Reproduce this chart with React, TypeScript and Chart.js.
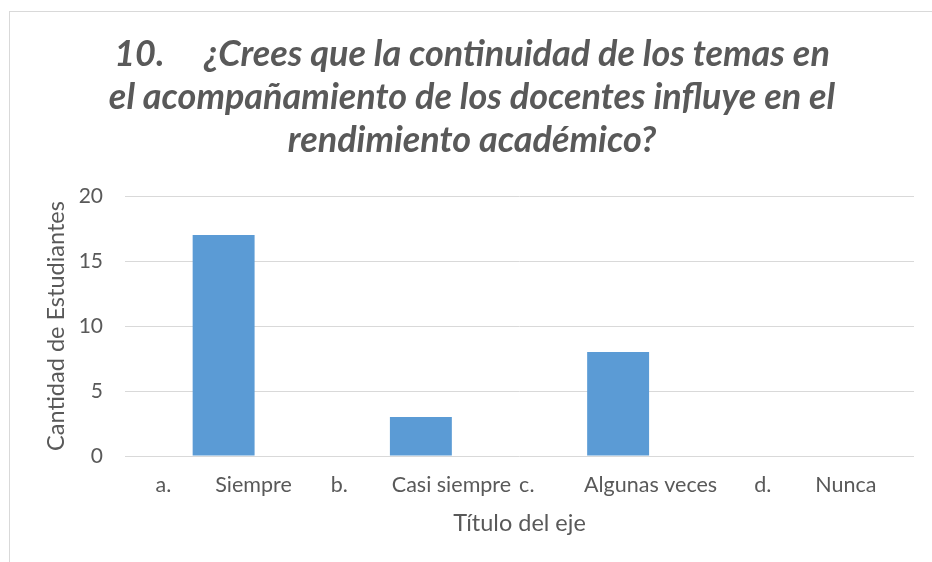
import React, { useEffect, useRef } from "react";
import { Chart, registerables } from "chart.js";

Chart.register(...registerables);

const categories = ["a.        Siempre", "b.        Casi siempre", "c.         Algunas veces", "d.        Nunca"];
const values = [17, 3, 8, 0];
const titleLines = [
  "10.     ¿Crees que la continuidad de los temas en",
  "el acompañamiento de los docentes influye en el",
  "rendimiento académico?",
];
const yAxisTitle = "Cantidad de Estudiantes";
const xAxisTitle = "Título del eje";
const yMin = 0;
const yMax = 20;
const yStep = 5;

const FONT = "Lato, 'Open Sans', sans-serif";
const TEXT = "#595959";

export default function App() {
  const ref = useRef<HTMLCanvasElement | null>(null);
  useEffect(() => {
    if (!ref.current) return;
    const chart = new Chart(ref.current, {
      type: "bar",
      data: {
        labels: categories,
        datasets: [
          {
            data: values,
            backgroundColor: "#5B9BD5",
            borderWidth: 0,
            categoryPercentage: 1,
            barPercentage: 0.314,
          },
        ],
      },
      options: {
        animation: false,
        responsive: false,
        maintainAspectRatio: false,
        layout: { padding: { top: 0, left: 20, right: 28, bottom: 27 } },
        plugins: {
          legend: { display: false },
          tooltip: { enabled: false },
          title: {
            display: true,
            text: titleLines,
            color: TEXT,
            font: { family: FONT, size: 36, weight: "bold", style: "italic", lineHeight: "43px" },
            padding: { top: 21, bottom: 34 },
          },
        },
        scales: {
          x: {
            grid: { display: false, drawTicks: false },
            border: { display: false },
            ticks: {
              color: TEXT,
              font: { family: FONT, size: 21.5 },
              padding: 16,
              maxRotation: 0,
              autoSkip: false,
            },
            title: {
              display: true,
              text: xAxisTitle,
              color: TEXT,
              font: { family: FONT, size: 23.5 },
              padding: { top: 0, bottom: 3 },
            },
            afterFit: (s: any) => {
              s.height = 85;
            },
          },
          y: {
            min: yMin,
            max: yMax,
            ticks: {
              stepSize: yStep,
              color: TEXT,
              font: { family: FONT, size: 21 },
              padding: 22,
            },
            grid: { color: "#D9D9D9", lineWidth: 1, drawTicks: false },
            border: { display: false },
            title: {
              display: true,
              text: yAxisTitle,
              color: TEXT,
              font: { family: FONT, size: 23.5 },
              padding: { top: 12, bottom: 0 },
            },
            afterFit: (s: any) => {
              s.width = 95;
            },
          },
        },
      },
    });
    return () => chart.destroy();
  }, []);
  return (
    <div
      style={{
        position: "absolute",
        left: 9,
        top: 11,
        width: 923,
        height: 551,
        overflow: "hidden",
        borderLeft: "1px solid #D9D9D9",
        borderTop: "1px solid #D9D9D9",
        background: "#fff",
      }}
    >
      <canvas ref={ref} width={932} height={556} style={{ display: "block" }} />
    </div>
  );
}
